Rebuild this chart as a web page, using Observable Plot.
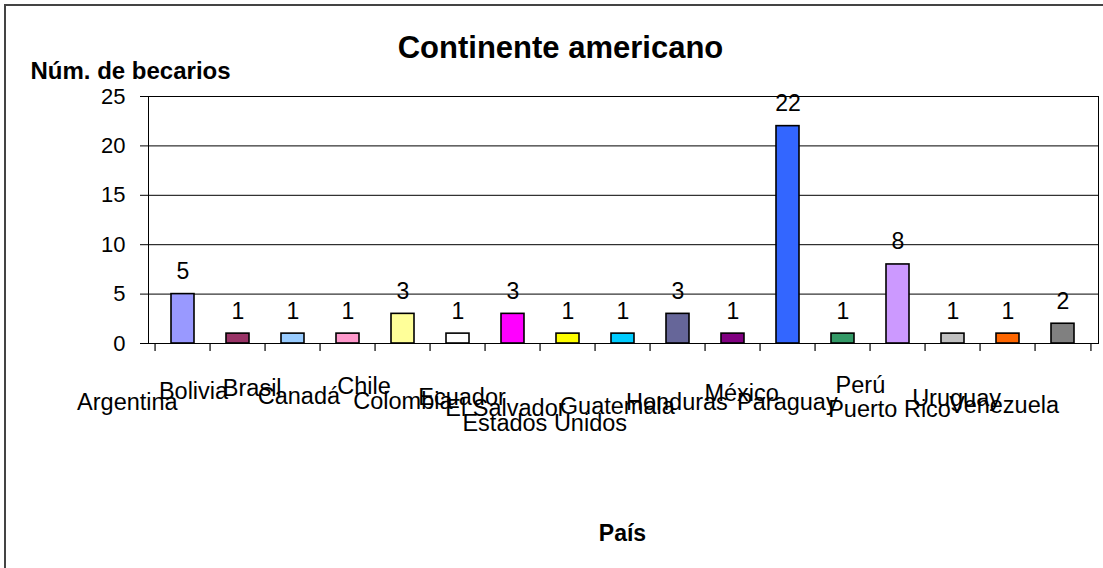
<!DOCTYPE html>
<html>
<head>
<meta charset="utf-8">
<script src="https://cdn.jsdelivr.net/npm/d3@7"></script>
<script src="https://cdn.jsdelivr.net/npm/@observablehq/plot@0.6"></script>
<style>
  html, body { margin: 0; padding: 0; background: #fff; overflow: hidden; }
  #wrap { position: relative; width: 1103px; height: 568px; overflow: hidden; }
  #border { position: absolute; left: 4px; top: 4px; width: 1300px; height: 800px;
            border: 2px solid #444; box-sizing: border-box; pointer-events: none; }
</style>
</head>
<body>
<div id="wrap"></div>
<script>
// ---- data ----
const paises = ["Argentina", "Bolivia", "Brasil", "Canadá", "Chile", "Colombia", "Ecuador",
  "El Salvador", "Estados Unidos", "Guatemala", "Honduras", "México", "Paraguay", "Perú",
  "Puerto Rico", "Uruguay", "Venezuela"];
const becarios = [5, 1, 1, 1, 3, 1, 3, 1, 1, 3, 1, 22, 1, 8, 1, 1, 2];
const colores = ["#9999FF", "#993366", "#99CCFF", "#FF99CC", "#FFFF99", "#FFFFFF", "#FF00FF",
  "#FFFF00", "#00CCFF", "#666699", "#800080", "#3366FF", "#339966", "#CC99FF",
  "#C0C0C0", "#FF6600", "#808080"];
const yTicks = [0, 5, 10, 15, 20, 25];
const gridValues = [5, 10, 15, 20];
const titulo = "Continente americano";
const ejeY = "Núm. de becarios";
const ejeX = "País";

const data = paises.map((p, i) => ({pais: p, v: becarios[i], color: colores[i]}));

// ---- layout ----
const W = 1103, H = 568;
const mL = 148, mR = 5, mT = 96, mB = 225;
const innerW = W - mL - mR, innerH = H - mT - mB;
const step = innerW / paises.length;
const tickLen = 8;
const pxPerUnit = innerH / 25;
const FONT = '"Liberation Sans", Arial, Helvetica, sans-serif';
const catFont = 23.5;

// Category labels: laid out like 45° rotated labels drawn unrotated (as in the source)
const ctx = document.createElement("canvas").getContext("2d");
ctx.font = `${catFont}px ${FONT}`;
const catMarks = paises.map(p => {
  const w = ctx.measureText(p).width;
  return Plot.text([p], {
    x: d => d, text: d => d, frameAnchor: "bottom", lineAnchor: "bottom",
    textAnchor: "middle", dx: -20 - 0.354 * w, dy: 33 + 0.33 * w,
    fontSize: catFont, fill: "#000"
  });
});

const chart = Plot.plot({
  width: W, height: H,
  marginLeft: mL, marginRight: mR, marginTop: mT, marginBottom: mB,
  style: {fontFamily: FONT, background: "transparent", overflow: "visible", color: "#000"},
  x: {domain: paises, axis: null, paddingInner: 0.58, paddingOuter: 0.29},
  y: {domain: [0, 25]},
  color: {type: "identity"},
  marks: [
    Plot.ruleY(gridValues, {stroke: "#000", strokeWidth: 1}),
    Plot.frame({stroke: "#000", strokeWidth: 1}),
    Plot.axisY({ticks: yTicks, tickSize: tickLen, tickPadding: 15, fontSize: 22, label: null, stroke: "#000", fill: "#000"}),
    Plot.barY(data, {x: "pais", y: "v", fill: "color", stroke: "#000", strokeWidth: 1.6}),
    Plot.ruleY([0], {stroke: "#000", strokeWidth: 1.2}),
    Plot.ruleX(paises, {x: d => d, y1: 0, y2: -tickLen / pxPerUnit, dx: -step / 2, stroke: "#000", strokeWidth: 1.2}),
    Plot.ruleX([paises[paises.length - 1]], {x: d => d, y1: 0, y2: -tickLen / pxPerUnit, dx: step / 2, stroke: "#000", strokeWidth: 1.2}),
    Plot.text(data, {x: "pais", y: "v", text: d => String(d.v), dy: -15, lineAnchor: "bottom", fontSize: 23, fill: "#000"}),
    ...catMarks,
    Plot.text([titulo], {text: d => d, frameAnchor: "top", lineAnchor: "bottom", dx: -63, dy: -39, fontSize: 31, fontWeight: "bold", fill: "#000"}),
    Plot.text([ejeY], {text: d => d, frameAnchor: "top-left", textAnchor: "start", lineAnchor: "bottom", dx: -118, dy: -18, fontSize: 24, fontWeight: "bold", fill: "#000"}),
    Plot.text([ejeX], {text: d => d, frameAnchor: "bottom", lineAnchor: "bottom", dx: -1, dy: 197, fontSize: 23, fontWeight: "bold", fill: "#000"})
  ]
});

const wrap = document.getElementById("wrap");
wrap.appendChild(chart);
chart.style.position = "absolute";
chart.style.left = "0px";
chart.style.top = "0px";
const border = document.createElement("div");
border.id = "border";
wrap.appendChild(border);
</script>
</body>
</html>
